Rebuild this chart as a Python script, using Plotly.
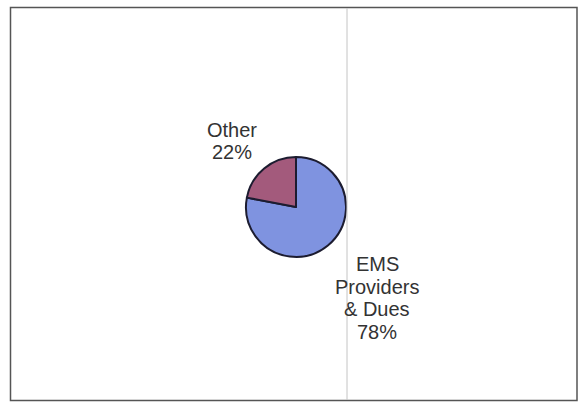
import plotly.graph_objects as go

# Share of funding by source
labels = ["EMS Providers & Dues", "Other"]
label_lines = [["EMS", "Providers", "& Dues"], ["Other"]]
values = [78, 22]
colors = ["#7F93E0", "#A35A7C"]

W, H = 582, 403

fig = go.Figure(
    go.Pie(
        labels=labels,
        values=values,
        sort=False,
        direction="clockwise",
        rotation=0,
        textinfo="none",
        hoverinfo="label+percent",
        marker=dict(colors=colors, line=dict(color="#1c1c30", width=2)),
        domain=dict(x=[246 / W, 346 / W], y=[(H - 257) / H, (H - 157) / H]),
        showlegend=False,
    )
)

# Slice captions built from the data, one annotation per text line
total = sum(values)
label_pos = [(377, 298), (232, 141)]  # caption centres in pixels
line_step = 22.5
for lines, v, (cx, cy) in zip(label_lines, values, label_pos):
    rows = lines + [f"{round(100 * v / total)}%"]
    top = cy - line_step * (len(rows) - 1) / 2
    for i, row in enumerate(rows):
        fig.add_annotation(
            x=cx / W, y=1 - (top + i * line_step) / H, xref="paper", yref="paper",
            text=row.replace("&", "&amp;"), showarrow=False,
            xanchor="center", yanchor="middle", align="center",
            font=dict(family="Liberation Sans, Arial, sans-serif", size=20, color="#333333"),
        )

# Chart border and the crease line
fig.add_shape(type="rect", xref="paper", yref="paper",
              x0=10.5 / W, x1=577 / W, y0=1 - 400.5 / H, y1=1 - 7.5 / H,
              line=dict(color="#555555", width=1.5))
fig.add_shape(type="line", xref="paper", yref="paper",
              x0=347 / W, x1=347 / W, y0=1 - 400 / H, y1=1 - 8 / H,
              line=dict(color="#c4c4c4", width=1))

fig.update_layout(
    width=W, height=H,
    margin=dict(l=0, r=0, t=0, b=0),
    paper_bgcolor="white",
    plot_bgcolor="white",
)

fig.write_html("out.html")
